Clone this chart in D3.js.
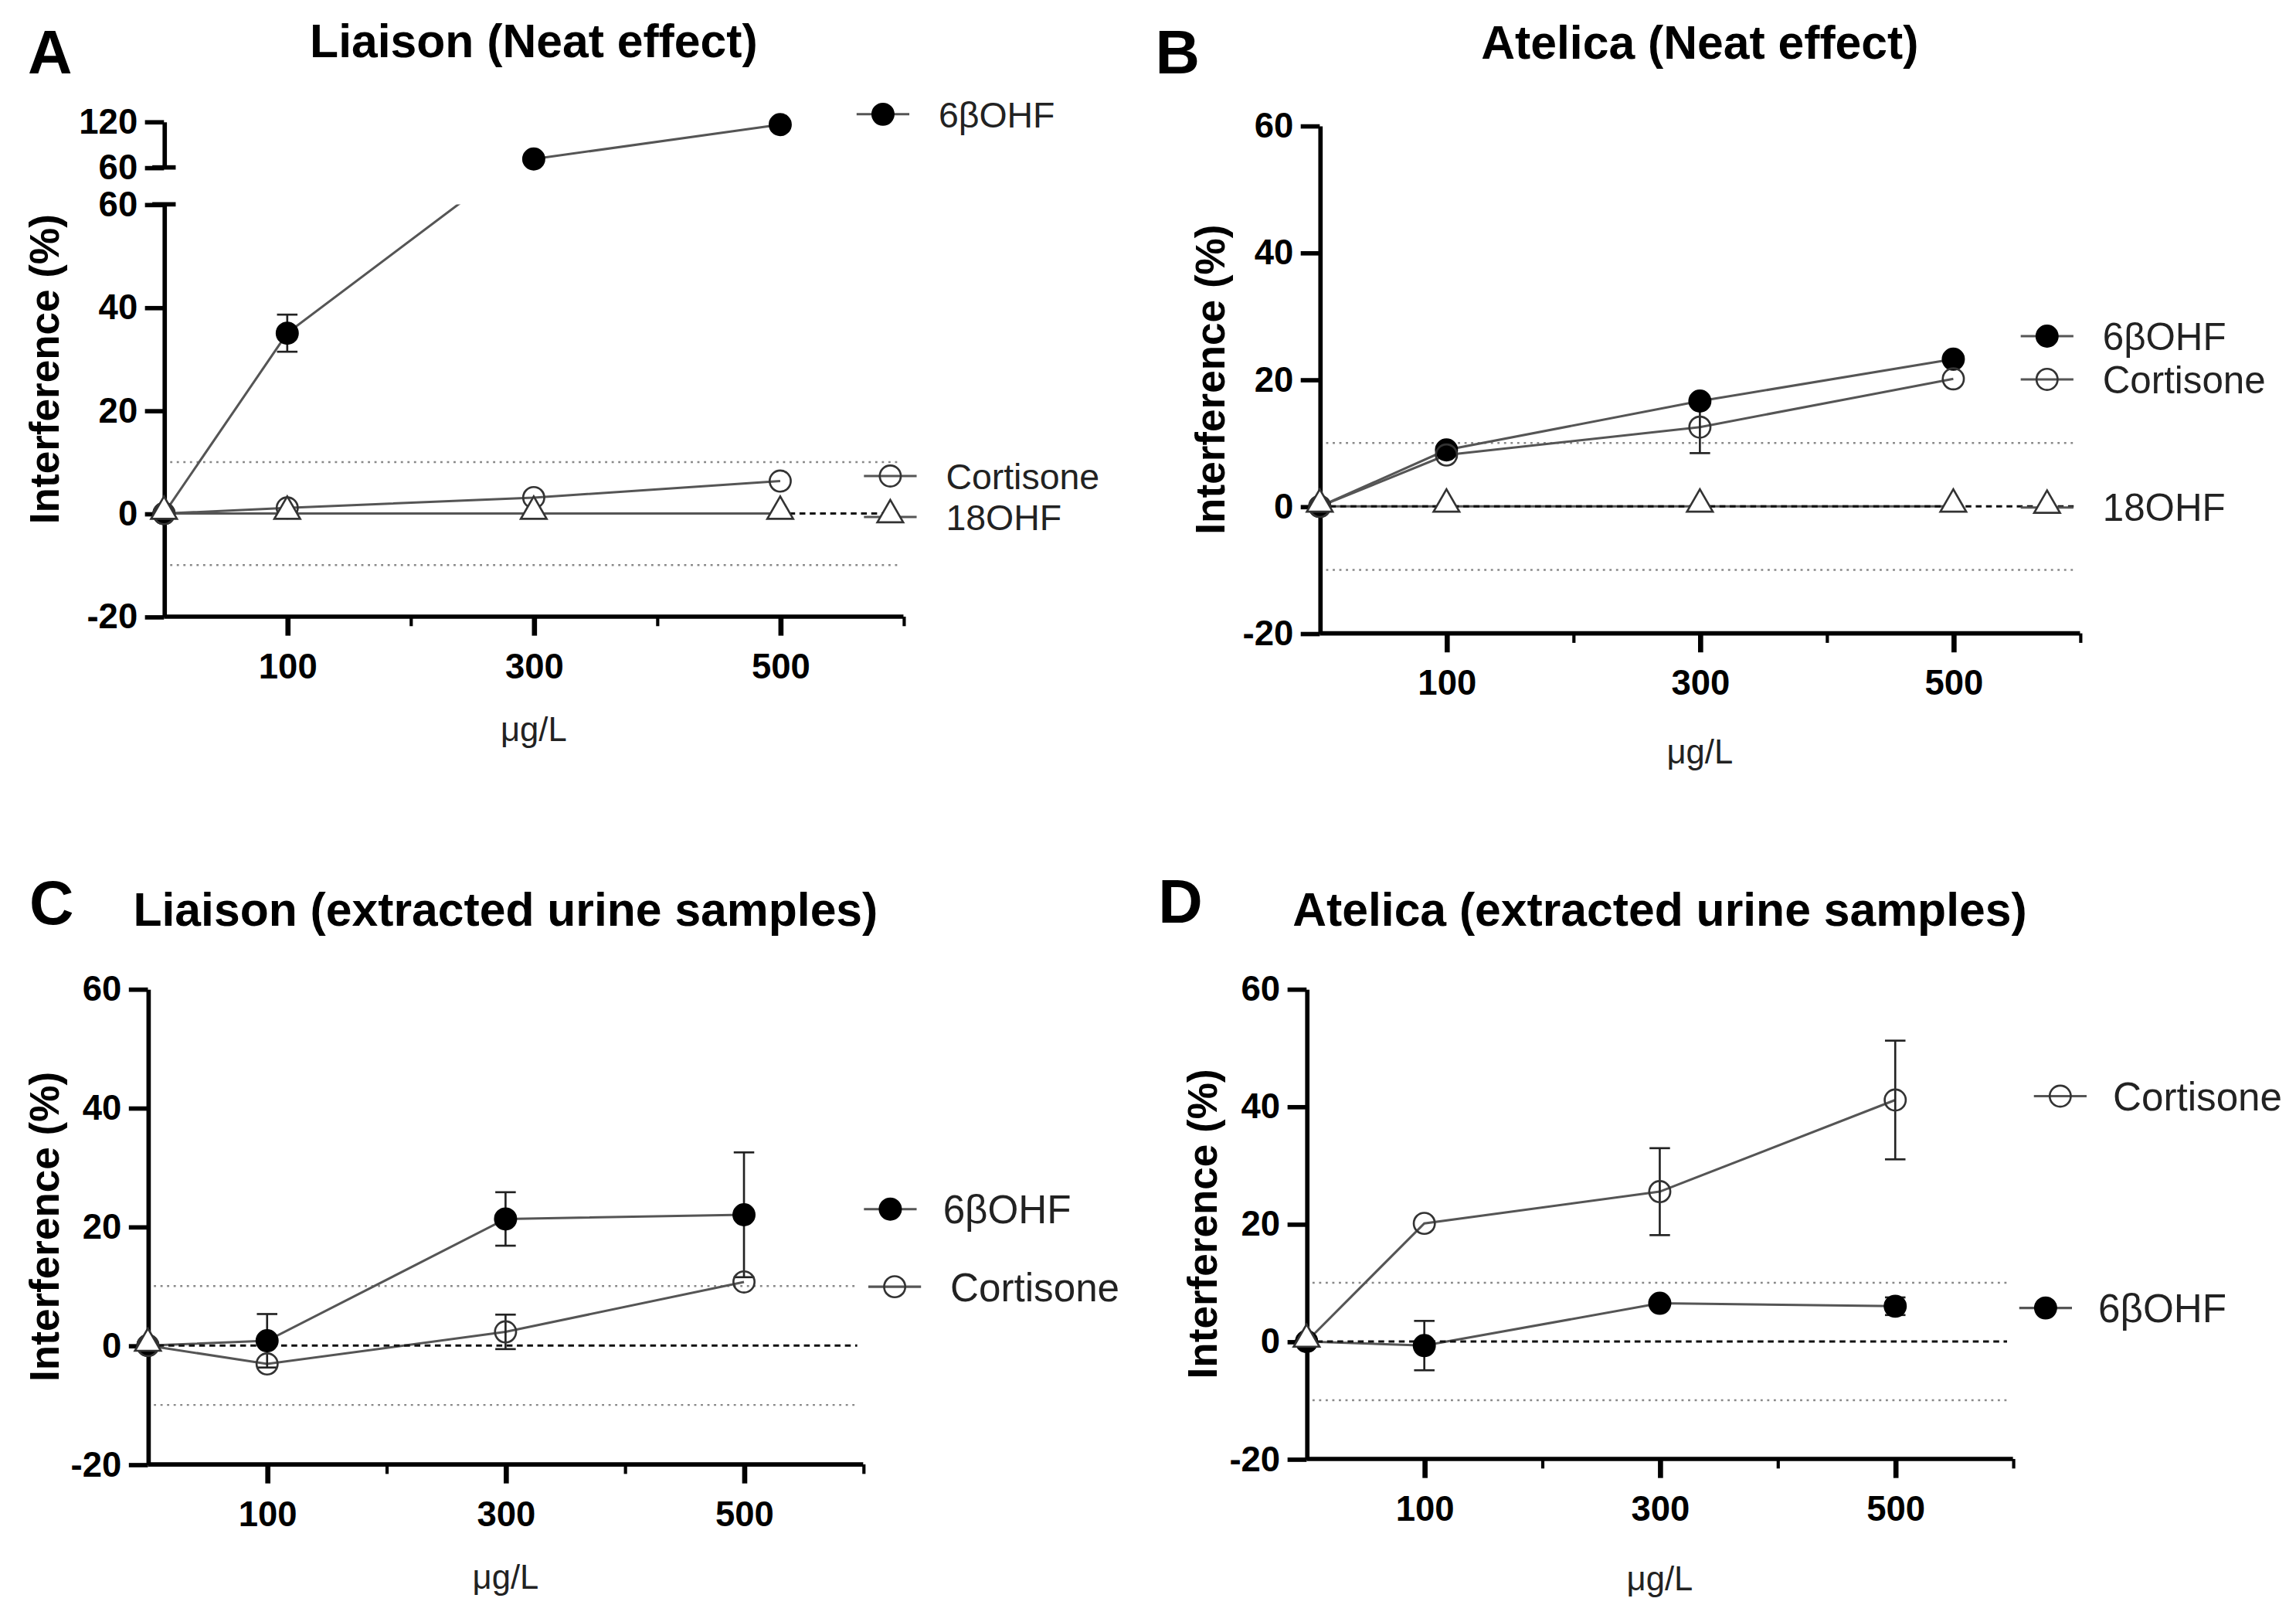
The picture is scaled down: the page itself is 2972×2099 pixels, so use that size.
<!DOCTYPE html>
<html>
<head>
<meta charset="utf-8">
<script src="https://cdn.jsdelivr.net/npm/d3@7"></script>
<style>
  body { margin: 0; background: #fff; }
  text { font-family: Arial, "Liberation Sans", sans-serif; }
</style>
</head>
<body>
<script>
// doses (µg/L) and axis ticks
var doses = [0, 100, 300, 500];
var xMajorTicks = [100, 300, 500];
var xMinorTicks = [200, 400, 600];
var yTicks = [-20, 0, 20, 40, 60];
var yTicksTop = [60, 120];

// A - Liaison, neat
var liaisonNeat6b = [0, 35, 71, 116];
var liaisonNeat6bErr = [0, 3.6, 0, 0];
var liaisonNeatCort = [0, 1.1, 3.1, 6.3];
var liaisonNeat18 = [0, 0, 0, 0];

// B - Atelica, neat
var atelicaNeat6b = [0, 8.9, 16.6, 23.2];
var atelicaNeatCort = [0, 8.1, 12.5, 20.1];
var atelicaNeatCortErr = [0, 0, 4.1, 0];
var atelicaNeat18 = [0, 0, 0, 0];

// C - Liaison, extracted urine
var liaisonUrine6b = [0, 0.8, 21.3, 22.0];
var liaisonUrine6bErr = [0, 4.5, 4.5, 10.5];
var liaisonUrineCort = [0, -3.1, 2.3, 10.7];
var liaisonUrineCortErr = [0, 0, 2.9, 0];
var liaisonUrine18 = [0];

// D - Atelica, extracted urine
var atelicaUrineCort = [0, 20.1, 25.5, 41.1];
var atelicaUrineCortErr = [0, 0, 7.4, 10.1];
var atelicaUrine6b = [0, -0.7, 6.5, 6.0];
var atelicaUrine6bErr = [0, 4.2, 0, 1.5];
var atelicaUrine18 = [0];

var W = 1568, H = 1107.4;
var svg = d3.select("body").append("svg")
  .attr("width", 2972).attr("height", 2099)
  .attr("viewBox", "0 0 " + W + " " + H);

var panels = [
  { letter: "A", title: "Liaison (Neat effect)", lx: 19, ly: 50, ty: 39,
    x0: 112, x1: 617, yTop: 139.5, yBot: 421, brk: { top: 83, bot: 114.3 },
    labelX: 40, unitY: 506, refOnTop: false, legendSize: 24.5,
    series: [
      { name: "6\u03b2OHF", values: liaisonNeat6b, errors: liaisonNeat6bErr, marker: "filled" },
      { name: "Cortisone", values: liaisonNeatCort, marker: "open" },
      { name: "18OHF", values: liaisonNeat18, marker: "tri" }
    ],
    legend: [
      { name: "6\u03b2OHF", marker: "filled", mx: 603, tx: 641, y: 78 },
      { name: "Cortisone", marker: "open", mx: 608, tx: 646, y: 325 },
      { name: "18OHF", marker: "tri", mx: 608, tx: 646, y: 353 }
    ] },
  { letter: "B", title: "Atelica (Neat effect)", lx: 789, ly: 50, ty: 40,
    x0: 901.3, x1: 1420.5, yTop: 85.8, yBot: 432.4,
    labelX: 836, unitY: 521, refOnTop: true, legendSize: 26,
    series: [
      { name: "6\u03b2OHF", values: atelicaNeat6b, marker: "filled" },
      { name: "Cortisone", values: atelicaNeatCort, errors: atelicaNeatCortErr, marker: "open" },
      { name: "18OHF", values: atelicaNeat18, marker: "tri" }
    ],
    legend: [
      { name: "6\u03b2OHF", marker: "filled", mx: 1398, tx: 1436, y: 229.5 },
      { name: "Cortisone", marker: "open", mx: 1398, tx: 1436, y: 259 },
      { name: "18OHF", marker: "tri", mx: 1398, tx: 1436, y: 346.5 }
    ] },
  { letter: "C", title: "Liaison (extracted urine samples)", lx: 20, ly: 631, ty: 632,
    x0: 101, x1: 589.5, yTop: 675.2, yBot: 999.8,
    labelX: 40, unitY: 1084.5, refOnTop: true, legendSize: 27,
    series: [
      { name: "6\u03b2OHF", values: liaisonUrine6b, errors: liaisonUrine6bErr, marker: "filled" },
      { name: "Cortisone", values: liaisonUrineCort, errors: liaisonUrineCortErr, marker: "open" },
      { name: "18OHF", values: liaisonUrine18, marker: "tri" }
    ],
    legend: [
      { name: "6\u03b2OHF", marker: "filled", mx: 608, tx: 644, y: 825.5 },
      { name: "Cortisone", marker: "open", mx: 611, tx: 649, y: 878.5 }
    ] },
  { letter: "D", title: "Atelica (extracted urine samples)", lx: 791, ly: 630, ty: 632,
    x0: 892.3, x1: 1374.7, yTop: 675.2, yBot: 996.1,
    labelX: 831, unitY: 1086, refOnTop: true, legendSize: 27,
    series: [
      { name: "Cortisone", values: atelicaUrineCort, errors: atelicaUrineCortErr, marker: "open" },
      { name: "6\u03b2OHF", values: atelicaUrine6b, errors: atelicaUrine6bErr, marker: "filled" },
      { name: "18OHF", values: atelicaUrine18, marker: "tri" }
    ],
    legend: [
      { name: "Cortisone", marker: "open", mx: 1407, tx: 1443, y: 748.4 },
      { name: "6\u03b2OHF", marker: "filled", mx: 1397, tx: 1433, y: 893 }
    ] }
];

var lineColor = "#555";
var triangle = d3.symbol().type(d3.symbolTriangle).size(135);

function drawMarker(g, kind, cx, cy) {
  if (kind === "tri") {
    g.append("path").attr("d", triangle)
      .attr("transform", "translate(" + cx + "," + (cy - 1.5) + ")")
      .attr("fill", "#fff").attr("stroke", "#333").attr("stroke-width", 1.4);
  } else {
    g.append("circle").attr("cx", cx).attr("cy", cy).attr("r", 7.2)
      .attr("fill", kind === "filled" ? "#000" : "none")
      .attr("stroke", kind === "filled" ? "#000" : "#333")
      .attr("stroke-width", 1.4);
  }
}

function plain(d) { return String(d); }

function styleAxis(ax, tickW) {
  ax.attr("font-size", 24).attr("font-weight", "bold")
    .attr("font-family", "Arial, 'Liberation Sans', sans-serif");
  ax.select(".domain").attr("stroke", "#000").attr("stroke-width", 3);
  ax.selectAll(".tick line").attr("stroke", "#000").attr("stroke-width", tickW);
  ax.selectAll(".tick text").attr("fill", "#000");
}

panels.forEach(function(p, pi) {
  var g = svg.append("g");
  var x = d3.scaleLinear().domain([0, 600]).range([p.x0, p.x1]);
  var y = d3.scaleLinear().domain([-20, 60]).range([p.yBot, p.yTop]);
  var yHi = p.brk ? d3.scaleLinear().domain([60, 120]).range([p.brk.bot, p.brk.top]) : null;

  // clip for the lower segment
  var clipId = "clip" + pi;
  svg.append("clipPath").attr("id", clipId).append("rect")
    .attr("x", p.x0 - 30).attr("y", p.yTop)
    .attr("width", p.x1 - p.x0 + 60).attr("height", p.yBot - p.yTop + 30);

  // letters and titles
  g.append("text").attr("x", p.lx).attr("y", p.ly).attr("font-size", 42)
    .attr("font-weight", "bold").text(p.letter);
  g.append("text").attr("x", (p.x0 + p.x1) / 2).attr("y", p.ty).attr("font-size", 32)
    .attr("font-weight", "bold").attr("text-anchor", "middle").text(p.title);

  // reference lines at ±10 (dotted) and 0 (dashed)
  var refs = g.append("g");
  [10, -10].forEach(function(v) {
    refs.append("line").attr("x1", x(5)).attr("x2", x(595)).attr("y1", y(v)).attr("y2", y(v))
      .attr("stroke", "#888").attr("stroke-width", 1.3).attr("stroke-dasharray", "1.5,3");
  });
  function zeroLine(parent) {
    parent.append("line").attr("x1", x(0)).attr("x2", x(595)).attr("y1", y(0)).attr("y2", y(0))
      .attr("stroke", "#111").attr("stroke-width", 1.6).attr("stroke-dasharray", "4,3");
  }
  if (!p.refOnTop) zeroLine(refs);

  // axes
  var yAx = g.append("g").attr("transform", "translate(" + p.x0 + ",0)")
    .call(d3.axisLeft(y).tickValues(yTicks).tickFormat(plain).tickSize(13).tickSizeOuter(0).tickPadding(5));
  styleAxis(yAx, 3);
  var xAx = g.append("g").attr("transform", "translate(0," + p.yBot + ")")
    .call(d3.axisBottom(x).tickValues(xMajorTicks).tickFormat(plain).tickSize(13).tickSizeOuter(0).tickPadding(12));
  styleAxis(xAx, 3.5);
  xAx.select(".domain").attr("d", "M" + p.x0 + ",0H" + p.x1);
  var xMin = g.append("g").attr("transform", "translate(0," + p.yBot + ")")
    .call(d3.axisBottom(x).tickValues(xMinorTicks).tickSize(6.5).tickFormat(""));
  xMin.select(".domain").remove();
  xMin.selectAll(".tick line").attr("stroke", "#000").attr("stroke-width", 2.2);

  if (yHi) {
    var yAxHi = g.append("g").attr("transform", "translate(" + p.x0 + ",0)")
      .call(d3.axisLeft(yHi).tickValues(yTicksTop).tickFormat(plain).tickSize(13).tickSizeOuter(0).tickPadding(5));
    styleAxis(yAxHi, 3);
    // break caps
    [yHi(60), y(60)].forEach(function(yy) {
      g.append("line").attr("x1", p.x0 - 8).attr("x2", p.x0 + 8).attr("y1", yy).attr("y2", yy)
        .attr("stroke", "#000").attr("stroke-width", 3);
    });
  }

  // axis titles
  g.append("text").attr("transform", "translate(" + p.labelX + "," + (p.brk ? (p.brk.top + p.yBot) / 2 : (p.yTop + p.yBot) / 2) + ") rotate(-90)")
    .attr("text-anchor", "middle").attr("font-size", 28).attr("font-weight", "bold")
    .text("Interference (%)");
  g.append("text").attr("x", (p.x0 + p.x1) / 2).attr("y", p.unitY).attr("text-anchor", "middle")
    .attr("font-size", 23).attr("fill", "#222").text("\u03bcg/L");

  // series lines
  var lines = g.append("g");
  p.series.forEach(function(s) {
    var pts = s.values.map(function(v, i) { return [doses[i], v]; });
    lines.append("path").datum(pts)
      .attr("d", d3.line().x(function(d) { return x(d[0]); }).y(function(d) { return y(d[1]); }))
      .attr("fill", "none").attr("stroke", lineColor).attr("stroke-width", 1.6)
      .attr("clip-path", "url(#" + clipId + ")");
    if (yHi) {
      var hi = pts.filter(function(d) { return d[1] > 60; });
      if (hi.length > 1) {
        lines.append("path").datum(hi)
          .attr("d", d3.line().x(function(d) { return x(d[0]); }).y(function(d) { return yHi(d[1]); }))
          .attr("fill", "none").attr("stroke", lineColor).attr("stroke-width", 1.6);
      }
    }
  });
  if (p.refOnTop) zeroLine(g);

  // error bars and markers
  var marks = g.append("g");
  p.series.forEach(function(s) {
    s.values.forEach(function(v, i) {
      var e = s.errors ? s.errors[i] : 0;
      var sc = (yHi && v > 60) ? yHi : y;
      if (e > 0) {
        var cx = x(doses[i]);
        marks.append("line").attr("x1", cx).attr("x2", cx).attr("y1", sc(v - e)).attr("y2", sc(v + e))
          .attr("stroke", "#222").attr("stroke-width", 1.4);
        [v - e, v + e].forEach(function(ev) {
          marks.append("line").attr("x1", cx - 7).attr("x2", cx + 7).attr("y1", sc(ev)).attr("y2", sc(ev))
            .attr("stroke", "#222").attr("stroke-width", 1.4);
        });
      }
    });
  });
  p.series.forEach(function(s) {
    s.values.forEach(function(v, i) {
      var sc = (yHi && v > 60) ? yHi : y;
      drawMarker(marks, s.marker, x(doses[i]), sc(v));
    });
  });

  // legend
  var lg = g.append("g");
  p.legend.forEach(function(l) {
    lg.append("line").attr("x1", l.mx - 18).attr("x2", l.mx + 18).attr("y1", l.y).attr("y2", l.y)
      .attr("stroke", lineColor).attr("stroke-width", 1.6);
    drawMarker(lg, l.marker, l.mx, l.y);
    lg.append("text").attr("x", l.tx).attr("y", l.y).attr("dy", "0.36em")
      .attr("font-size", p.legendSize).attr("fill", "#222").text(l.name);
  });
});
</script>
</body>
</html>
